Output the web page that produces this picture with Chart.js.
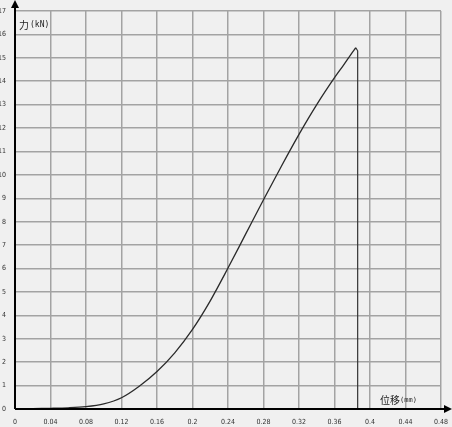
<!DOCTYPE html>
<html>
<head>
<meta charset="utf-8">
<script src="https://cdn.jsdelivr.net/npm/chart.js@4"></script>
<style>
  html, body { margin: 0; padding: 0; background: #f0f0f0; }
  canvas { display: block; }
</style>
</head>
<body>
<canvas id="chart" width="452" height="427"></canvas>
<script>
// displacement (mm) and force (kN)
const dispMm = [0, 0.02, 0.04, 0.06, 0.08, 0.10, 0.12, 0.14, 0.16, 0.18, 0.20, 0.22, 0.24, 0.26, 0.28, 0.30, 0.32, 0.34, 0.36, 0.37, 0.378, 0.384];
const forceKn = [0, 0.02, 0.03, 0.05, 0.10, 0.22, 0.48, 0.97, 1.6, 2.4, 3.4, 4.62, 6.02, 7.48, 8.94, 10.36, 11.73, 13.0, 14.15, 14.68, 15.12, 15.43];

// the break: force drops to zero
const dropMm = [0.384, 0.3861, 0.3861];
const dropKn = [15.43, 15.3, 0];

const xTicks = [0, 0.04, 0.08, 0.12, 0.16, 0.2, 0.24, 0.28, 0.32, 0.36, 0.4, 0.44, 0.48];
const yMax = 17;

const toPoints = (xs, ys) => xs.map((x, i) => ({ x: x, y: ys[i] }));

// background, axis arrows and axis names
const decor = {
    id: 'decor',
    beforeDraw(chart) {
        const ctx = chart.ctx;
        ctx.save();
        ctx.fillStyle = '#f0f0f0';
        ctx.fillRect(0, 0, chart.width, chart.height);
        ctx.restore();
    },
    afterDraw(chart) {
        const ctx = chart.ctx;
        const a = chart.chartArea;
        ctx.save();
        ctx.strokeStyle = '#000';
        ctx.fillStyle = '#000';
        ctx.lineWidth = 2;
        // y axis up to the top with arrow
        ctx.beginPath();
        ctx.moveTo(a.left, a.bottom);
        ctx.lineTo(a.left, 4);
        ctx.stroke();
        ctx.beginPath();
        ctx.moveTo(a.left, 0);
        ctx.lineTo(a.left - 4, 8);
        ctx.lineTo(a.left + 4, 8);
        ctx.closePath();
        ctx.fill();
        // x axis out to the right with arrow
        ctx.beginPath();
        ctx.moveTo(a.left, a.bottom);
        ctx.lineTo(chart.width - 4, a.bottom);
        ctx.stroke();
        ctx.beginPath();
        ctx.moveTo(chart.width, a.bottom);
        ctx.lineTo(chart.width - 8, a.bottom - 4);
        ctx.lineTo(chart.width - 8, a.bottom + 4);
        ctx.closePath();
        ctx.fill();

        ctx.fillStyle = '#222';
        ctx.textBaseline = 'middle';
        ctx.font = '10px "Noto Sans CJK SC"';
        ctx.fillText('力', a.left + 4, 25);
        ctx.font = '8px "DejaVu Sans Mono"';
        ctx.fillText('(kN)', a.left + 15, 25);
        ctx.font = '10px "Noto Sans CJK SC"';
        ctx.fillText('位移', 380, 400);
        ctx.font = '7px "DejaVu Sans Mono"';
        ctx.fillText('(mm)', 400, 400);
        ctx.restore();
    }
};

const tickFont = { family: '"Liberation Sans Narrow", "DejaVu Sans Condensed", sans-serif', size: 7 };

// keep the plot area where the layout padding puts it
function noEdgePadding(scale) {
    scale.paddingLeft = 0;
    scale.paddingRight = 0;
    scale.paddingTop = 0;
    scale.paddingBottom = 0;
}

new Chart(document.getElementById('chart'), {
    type: 'scatter',
    data: {
        datasets: [{
            data: toPoints(dispMm, forceKn),
            showLine: true,
            borderColor: '#2a2a2a',
            borderWidth: 1.3,
            pointRadius: 0,
            cubicInterpolationMode: 'monotone'
        }, {
            data: toPoints(dropMm, dropKn),
            showLine: true,
            borderColor: '#333',
            borderWidth: 1.2,
            pointRadius: 0,
            tension: 0
        }]
    },
    options: {
        responsive: false,
        devicePixelRatio: 1,
        animation: false,
        layout: { padding: { top: 11, right: 11, left: 0, bottom: 0 } },
        plugins: { legend: { display: false }, tooltip: { enabled: false } },
        scales: {
            x: {
                type: 'linear',
                min: 0,
                max: 0.48,
                afterFit(scale) { scale.height = 18; noEdgePadding(scale); },
                afterBuildTicks(scale) { scale.ticks = xTicks.map(v => ({ value: v })); },
                ticks: {
                    color: '#333',
                    font: tickFont,
                    padding: 9,
                    maxRotation: 0,
                    autoSkip: false,
                    callback: v => String(v)
                },
                grid: { color: '#a3a3a3', lineWidth: 1.5, drawTicks: false },
                border: { display: false }
            },
            y: {
                type: 'linear',
                min: 0,
                max: yMax,
                afterFit(scale) { scale.width = 15; noEdgePadding(scale); },
                ticks: {
                    stepSize: 1,
                    color: '#333',
                    font: tickFont,
                    padding: 9,
                    autoSkip: false
                },
                grid: { color: '#a3a3a3', lineWidth: 1.5, drawTicks: false },
                border: { display: false }
            }
        }
    },
    plugins: [decor]
});
</script>
</body>
</html>
